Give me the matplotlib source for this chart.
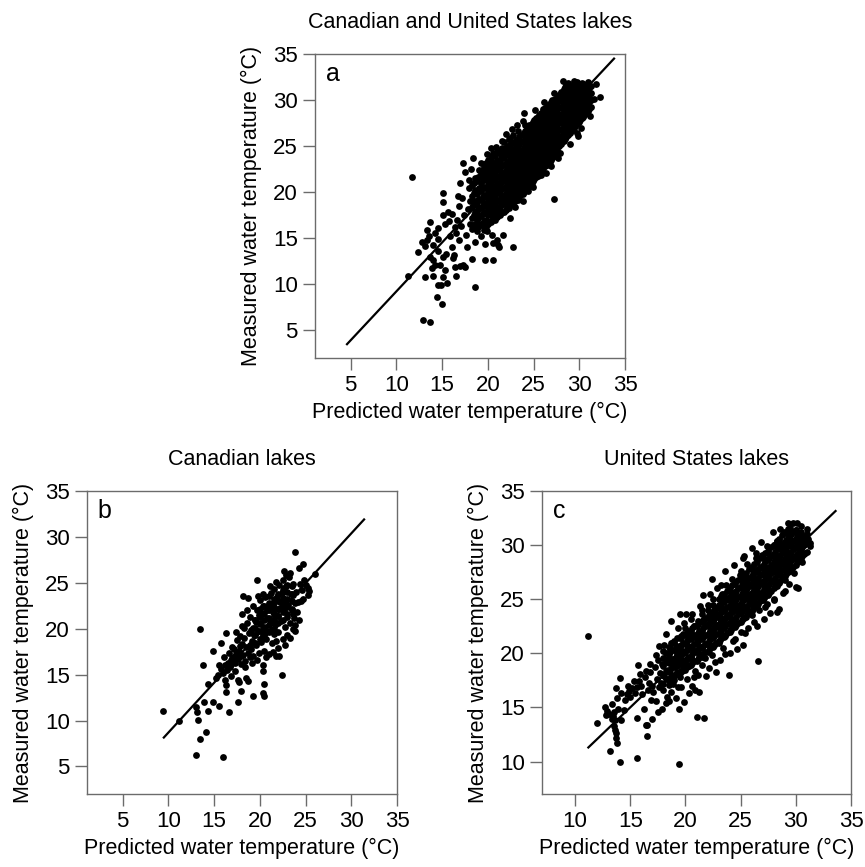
import numpy as np
import matplotlib
matplotlib.use("Agg")
import matplotlib.pyplot as plt

plt.rcParams['font.family'] = ['Liberation Sans', 'DejaVu Sans']

# ---------------- data ----------------
titles = ["Canadian and United States lakes", "Canadian lakes", "United States lakes"]
panel_letters = ["a", "b", "c"]
xlabel = "Predicted water temperature (°C)"
ylabel = "Measured water temperature (°C)"
ticks_ab = [5, 10, 15, 20, 25, 30, 35]
ticks_c = [10, 15, 20, 25, 30, 35]

# fitted lines (predicted range, fitted measured)
fit_a_x = [4.6, 33.8]
fit_a_y = [3.5, 34.5]
fit_b_x = [9.5, 31.4]
fit_b_y = [8.15, 31.9]
fit_c_x = [11.2, 33.6]
fit_c_y = [11.3, 33.15]

# Panel a: combined lakes -- sparse / fringe points (predicted, measured)
a_points = [
    (11.75, 21.6), (11.3, 10.9), (12.95, 6.1), (13.7, 5.9), (15.0, 7.9), (14.4, 8.65),
    (14.6, 9.9), (14.9, 9.9), (15.5, 10.1), (18.6, 9.7), (13.1, 10.8), (14.05, 10.9),
    (15.1, 10.8), (16.5, 10.9), (15.3, 11.55), (14.8, 12.1), (16.4, 11.9), (17.3, 12.1),
    (17.5, 11.85), (18.25, 12.7), (19.7, 12.6), (20.6, 12.6), (12.35, 13.55), (12.8, 14.6),
    (13.1, 14.2), (13.3, 14.8), (13.7, 13.0), (14.05, 12.6), (14.25, 12.1), (13.85, 11.75),
    (15.1, 13.0), (15.4, 13.3), (14.5, 13.6), (14.0, 14.3), (14.6, 14.9), (13.6, 15.2),
    (13.3, 15.9), (13.7, 16.8), (14.2, 15.6), (14.6, 16.1), (15.1, 19.9), (15.05, 18.9),
    (15.1, 17.5), (15.3, 16.6), (15.6, 17.9), (15.9, 15.2), (15.8, 16.9), (16.1, 14.0),
    (16.3, 13.2), (16.5, 15.6), (16.6, 17.0), (16.8, 18.5), (16.9, 14.8), (17.0, 21.0),
    (17.3, 23.15), (17.1, 16.3), (17.2, 19.4), (17.4, 17.5), (17.6, 15.3), (17.7, 14.1),
    (17.8, 18.2), (17.9, 20.4), (18.4, 23.7), (18.0, 16.6), (18.1, 19.0), (19.7, 14.4),
    (20.6, 14.45), (21.2, 14.1), (22.8, 14.0), (18.6, 14.6), (19.2, 15.2), (19.9, 15.8),
    (20.5, 15.3), (21.7, 15.4), (21.0, 14.8), (21.1, 14.3), (16.2, 12.9), (17.0, 12.0),
    (16.1, 17.6), (16.7, 19.6), (17.5, 22.2), (17.9, 21.3), (18.2, 22.5), (16.4, 16.2),
    (24.0, 28.6), (23.9, 27.7), (28.6, 27.3), (29.7, 26.4), (29.9, 26.1), (32.3, 30.3),
    (31.8, 31.7), (28.2, 32.1), (27.9, 24.2), (27.7, 23.7), (25.8, 21.9), (24.4, 20.1),
    (27.2, 19.3), (22.0, 26.3), (21.6, 25.6), (20.3, 24.8), (19.3, 23.2), (22.4, 17.2),
    (23.0, 18.4), (23.8, 19.0), (24.9, 20.6), (26.4, 22.1), (26.9, 22.8), (29.0, 25.2),
    (30.2, 27.0), (31.2, 28.3), (31.6, 30.1), (30.9, 32.0), (29.4, 32.1), (27.2, 30.8),
    (26.1, 29.8), (25.2, 28.9), (23.2, 27.3), (22.6, 26.9), (20.9, 24.9), (19.9, 24.1),
    (28.9, 28.0), (30.6, 29.2),
]

# Panel a: dense core, columns of (predicted, [measured ...])
a_core = [
    (18.3, [16.0, 17.2, 18.4, 19.6, 20.8]),
    (18.55, [16.6, 17.8, 19.0, 20.2, 21.5]),
    (18.8, [15.8, 17.0, 17.9, 18.9, 19.8, 21.2]),
    (19.05, [16.5, 17.4, 18.4, 19.3, 20.4, 22.4]),
    (19.3, [16.4, 17.4, 18.3, 19.2, 20.1, 21.0, 22.0]),
    (19.55, [15.9, 16.9, 17.8, 18.8, 19.7, 20.6, 21.6, 22.7]),
    (19.8, [16.2, 17.0, 17.9, 18.7, 19.6, 20.4, 21.3, 22.3, 23.2]),
    (20.05, [16.6, 17.5, 18.3, 19.1, 20.0, 20.8, 21.7, 22.6, 23.5]),
    (20.3, [16.8, 17.7, 18.5, 19.3, 20.2, 21.0, 21.9, 22.7, 23.6]),
    (20.55, [17.3, 18.1, 18.9, 19.8, 20.6, 21.5, 22.3, 23.2, 24.2]),
    (20.8, [17.0, 17.9, 18.8, 19.6, 20.5, 21.3, 22.2, 23.0, 24.0]),
    (21.05, [17.6, 18.4, 19.2, 20.1, 20.9, 21.8, 22.6, 23.5, 24.5]),
    (21.3, [17.5, 18.4, 19.2, 20.0, 20.9, 21.7, 22.5, 23.4, 24.3]),
    (21.55, [17.9, 18.8, 19.6, 20.5, 21.3, 22.1, 23.0, 23.9, 24.8]),
    (21.8, [17.8, 18.7, 19.6, 20.4, 21.2, 22.1, 22.9, 23.7, 24.6, 25.4]),
    (22.05, [18.3, 19.1, 20.0, 20.8, 21.7, 22.5, 23.3, 24.2, 25.0]),
    (22.3, [18.3, 19.2, 20.0, 20.8, 21.6, 22.5, 23.3, 24.1, 24.9, 25.8]),
    (22.55, [18.8, 19.6, 20.4, 21.2, 22.1, 22.9, 23.7, 24.5, 25.4]),
    (22.8, [18.8, 19.6, 20.5, 21.3, 22.1, 22.9, 23.7, 24.5, 25.3, 26.2]),
    (23.05, [19.3, 20.1, 20.9, 21.7, 22.5, 23.3, 24.1, 24.9, 25.7]),
    (23.3, [19.2, 20.1, 20.9, 21.7, 22.5, 23.3, 24.2, 25.0, 25.8, 26.6]),
    (23.55, [19.7, 20.5, 21.3, 22.1, 22.9, 23.7, 24.6, 25.4, 26.2]),
    (23.8, [19.8, 20.6, 21.4, 22.2, 23.0, 23.8, 24.6, 25.4, 26.2]),
    (24.05, [20.2, 21.0, 21.8, 22.6, 23.4, 24.2, 25.0, 25.8, 26.6, 27.3]),
    (24.3, [20.5, 21.3, 22.1, 22.9, 23.7, 24.5, 25.3, 26.1, 26.9]),
    (24.55, [20.9, 21.7, 22.5, 23.3, 24.1, 24.9, 25.7, 26.5, 27.3]),
    (24.8, [21.0, 21.8, 22.6, 23.4, 24.2, 25.0, 25.8, 26.6, 27.4]),
    (25.05, [21.4, 22.2, 23.0, 23.8, 24.6, 25.4, 26.2, 27.0, 27.8]),
    (25.3, [21.6, 22.4, 23.2, 24.0, 24.8, 25.6, 26.4, 27.2, 28.0]),
    (25.55, [22.0, 22.8, 23.6, 24.4, 25.2, 26.0, 26.8, 27.6, 28.4]),
    (25.8, [22.4, 23.1, 23.9, 24.7, 25.5, 26.3, 27.1, 27.9, 28.6]),
    (26.05, [22.6, 23.4, 24.2, 25.0, 25.8, 26.6, 27.4, 28.2, 29.0]),
    (26.3, [22.8, 23.6, 24.4, 25.2, 26.0, 26.8, 27.6, 28.4, 29.1]),
    (26.55, [23.2, 24.0, 24.8, 25.6, 26.4, 27.2, 28.0, 28.8, 29.5]),
    (26.8, [23.3, 24.1, 24.9, 25.7, 26.5, 27.3, 28.1, 28.9, 29.6]),
    (27.05, [23.7, 24.5, 25.3, 26.1, 26.9, 27.7, 28.5, 29.3, 30.0]),
    (27.3, [23.9, 24.6, 25.4, 26.2, 27.0, 27.8, 28.6, 29.4, 30.1]),
    (27.55, [24.6, 25.4, 26.2, 27.0, 27.8, 28.6, 29.4, 30.2]),
    (27.8, [25.0, 25.9, 26.7, 27.5, 28.3, 29.1, 29.9, 30.6]),
    (28.05, [25.3, 26.1, 26.9, 27.7, 28.5, 29.3, 30.1, 30.9]),
    (28.3, [25.6, 26.4, 27.2, 28.0, 28.8, 29.6, 30.4, 31.2]),
    (28.55, [26.0, 26.8, 27.6, 28.4, 29.2, 30.0, 30.8, 31.6]),
    (28.8, [26.2, 27.0, 27.8, 28.6, 29.4, 30.2, 31.0, 31.8]),
    (29.05, [26.6, 27.4, 28.2, 29.0, 29.8, 30.6, 31.4]),
    (29.3, [26.8, 27.6, 28.4, 29.2, 30.0, 30.8, 31.6]),
    (29.55, [27.2, 28.0, 28.8, 29.6, 30.4, 31.2, 32.0]),
    (29.8, [27.4, 28.2, 29.0, 29.8, 30.6, 31.4, 32.0]),
    (30.05, [27.8, 28.6, 29.4, 30.2, 31.0, 31.7]),
    (30.3, [28.0, 28.8, 29.6, 30.4, 31.2, 31.9]),
    (30.55, [28.4, 29.2, 30.0, 30.8, 31.5]),
    (30.8, [28.6, 29.4, 30.2, 31.0, 31.7]),
    (31.05, [29.0, 29.8, 30.6, 31.3]),
    (31.3, [29.2, 30.0, 30.8, 31.5]),
]

a_fill = [
    (18.45, [16.3, 17.5, 18.7, 19.9, 21.0]),
    (18.95, [16.2, 17.2, 18.2, 19.1, 20.1, 21.6]),
    (19.45, [16.7, 17.6, 18.5, 19.5, 20.4, 21.3, 22.3]),
    (19.95, [16.9, 17.8, 18.7, 19.5, 20.4, 21.3, 22.1, 23.0]),
    (20.45, [17.0, 17.9, 18.7, 19.6, 20.4, 21.3, 22.1, 23.0, 23.9]),
    (20.95, [17.3, 18.2, 19.0, 19.9, 20.7, 21.6, 22.4, 23.3, 24.2]),
    (21.45, [17.7, 18.6, 19.4, 20.3, 21.1, 21.9, 22.8, 23.7, 24.6]),
    (21.95, [18.1, 18.9, 19.8, 20.6, 21.4, 22.3, 23.1, 24.0, 24.8]),
    (22.45, [18.6, 19.4, 20.2, 21.0, 21.9, 22.7, 23.5, 24.3, 25.1, 25.9]),
    (22.95, [19.0, 19.9, 20.7, 21.5, 22.3, 23.1, 23.9, 24.7, 25.5]),
    (23.45, [19.5, 20.3, 21.1, 21.9, 22.7, 23.5, 24.4, 25.2, 26.0]),
    (23.95, [20.0, 20.8, 21.6, 22.4, 23.2, 24.0, 24.8, 25.6, 26.4]),
    (24.45, [20.7, 21.5, 22.3, 23.1, 23.9, 24.7, 25.5, 26.3, 27.1]),
    (24.95, [21.2, 22.0, 22.8, 23.6, 24.4, 25.2, 26.0, 26.8, 27.6]),
    (25.45, [21.8, 22.6, 23.4, 24.2, 25.0, 25.8, 26.6, 27.4, 28.2]),
    (25.95, [22.2, 23.0, 23.8, 24.6, 25.4, 26.2, 27.0, 27.8, 28.6]),
    (26.45, [23.0, 23.8, 24.6, 25.4, 26.2, 27.0, 27.8, 28.6, 29.3]),
    (26.95, [23.5, 24.3, 25.1, 25.9, 26.7, 27.5, 28.3, 29.1, 29.8]),
    (27.45, [24.2, 25.0, 25.8, 26.6, 27.4, 28.2, 29.0, 29.8]),
    (27.95, [25.2, 26.0, 26.8, 27.6, 28.4, 29.2, 30.0, 30.8]),
    (28.45, [25.8, 26.6, 27.4, 28.2, 29.0, 29.8, 30.6, 31.4]),
    (28.95, [26.4, 27.2, 28.0, 28.8, 29.6, 30.4, 31.2]),
    (29.45, [27.0, 27.8, 28.6, 29.4, 30.2, 31.0, 31.8]),
    (29.95, [27.6, 28.4, 29.2, 30.0, 30.8, 31.6]),
    (30.45, [28.2, 29.0, 29.8, 30.6, 31.4]),
    (30.95, [28.8, 29.6, 30.4, 31.2]),
]

# Panel b: Canadian lakes (predicted, measured)
b_points = [
    (9.4, 11.0), (11.2, 10.0), (13.0, 11.5), (13.15, 10.9), (13.2, 10.1), (13.5, 8.0),
    (13.0, 6.2), (14.1, 8.8), (14.3, 11.0), (13.9, 12.0), (14.9, 12.0), (15.5, 11.6),
    (16.6, 10.9), (16.0, 6.0), (13.5, 20.0), (13.8, 16.0), (14.3, 14.0), (14.9, 17.6),
    (15.7, 18.4), (16.3, 19.5), (15.5, 16.0), (16.2, 14.4), (16.3, 13.1), (16.3, 13.9),
    (17.6, 12.0), (17.95, 13.2), (17.7, 14.2), (17.6, 14.4), (18.5, 14.6), (18.7, 14.3),
    (19.3, 12.7), (20.4, 13.0), (20.5, 12.7), (20.5, 14.0), (20.3, 15.4), (20.3, 16.0),
    (22.4, 15.0), (18.2, 23.6), (18.7, 23.3), (19.7, 25.3), (23.9, 28.4), (24.7, 27.0),
    (24.3, 26.6), (26.0, 26.0), (24.6, 24.2), (25.3, 24.4), (25.3, 23.7), (24.7, 23.2),
    (23.6, 23.7), (22.6, 26.3), (21.8, 17.0), (22.1, 17.0), (23.6, 20.0), (17.0, 16.8),
    (15.8, 15.6), (16.0, 15.2), (16.2, 16.0), (16.4, 15.5), (16.5, 16.3), (16.7, 15.8),
    (16.8, 16.6), (16.9, 16.2), (17.1, 16.9), (17.2, 17.8), (17.3, 16.3), (17.4, 17.2),
    (17.5, 18.8), (17.6, 16.7), (17.7, 17.6), (17.8, 19.2), (17.9, 16.2), (18.0, 18.3),
    (18.1, 20.3), (18.2, 17.1), (18.3, 19.0), (18.4, 16.5), (18.5, 18.0), (18.6, 20.6),
    (18.7, 17.4), (18.8, 19.5), (18.9, 21.3), (19.0, 17.8), (19.1, 18.7), (19.2, 20.1),
    (19.2, 22.5), (19.3, 17.0), (19.4, 19.3), (19.5, 21.0), (19.6, 18.2), (19.7, 22.0),
    (19.8, 19.8), (19.9, 17.4), (20.0, 20.6), (20.0, 23.1), (20.1, 18.6), (20.2, 21.6),
    (20.3, 19.3), (20.4, 22.5), (20.5, 17.6), (20.5, 20.2), (20.6, 23.5), (20.7, 18.9),
    (20.8, 21.2), (20.9, 19.7), (21.0, 22.6), (21.0, 17.2), (21.1, 20.6), (21.2, 23.9),
    (21.3, 18.4), (21.4, 21.8), (21.5, 19.4), (21.5, 24.3), (21.6, 22.9), (21.7, 20.4),
    (21.8, 18.7), (21.9, 23.5), (22.0, 21.4), (22.0, 19.6), (22.1, 24.8), (22.2, 22.3),
    (22.3, 20.8), (22.4, 23.9), (22.5, 18.9), (22.5, 25.3), (22.6, 21.9), (22.7, 20.2),
    (22.8, 23.1), (22.9, 24.6), (23.0, 21.3), (23.0, 19.3), (23.1, 22.6), (23.2, 25.6),
    (23.3, 20.6), (23.4, 23.8), (23.5, 22.0), (23.6, 24.9), (23.7, 21.2), (23.8, 22.8),
    (23.9, 20.4), (24.0, 24.0), (24.1, 21.8), (24.2, 22.9), (24.4, 24.9), (24.5, 23.0),
    (24.8, 25.3), (25.0, 24.8), (25.4, 24.1), (19.0, 19.9), (19.6, 20.7), (20.2, 19.0),
    (20.8, 22.0), (21.2, 21.0), (21.6, 21.0), (22.2, 22.9), (22.6, 24.4), (21.3, 19.9),
    (20.6, 19.5), (19.9, 21.5), (20.4, 23.8), (21.1, 24.7), (21.8, 25.1), (22.9, 25.8),
    (23.3, 26.1), (18.3, 20.1), (17.8, 18.1), (19.4, 18.4), (18.9, 16.9), (19.7, 16.6),
    (20.7, 16.9), (21.4, 17.5), (22.0, 17.9), (22.8, 18.2), (23.3, 19.0), (23.9, 19.7),
    (23.6, 21.6), (24.3, 21.0), (16.8, 14.9), (17.3, 15.4), (16.1, 16.9), (15.4, 15.0),
    (15.2, 14.6), (17.0, 18.0), (17.4, 19.6), (16.6, 17.4), (18.1, 21.6), (18.6, 22.0),
    (18.4, 15.8), (19.1, 16.3), (19.8, 23.6), (17.9, 17.0), (18.9, 18.2),
]

# Panel b: dense core, columns of (predicted, [measured ...])
b_core = [
    (19.5, [18.5, 19.3, 20.1, 20.9]),
    (20.0, [18.9, 19.7, 20.5, 21.3, 22.1]),
    (20.5, [19.3, 20.1, 20.9, 21.7, 22.5]),
    (21.0, [19.6, 20.4, 21.2, 22.0, 22.8, 23.6]),
    (21.5, [20.0, 20.8, 21.6, 22.4, 23.2]),
    (22.0, [20.6, 21.4, 22.2, 23.0, 23.8]),
    (22.5, [21.0, 21.8, 22.6, 23.4, 24.2]),
    (23.0, [21.6, 22.4, 23.2, 24.0, 24.8]),
    (23.5, [22.2, 23.0, 23.8, 24.6]),
]

# Panel c: United States lakes (predicted, measured)
c_points = [
    (11.15, 21.6), (12.0, 13.6), (12.7, 15.0), (12.9, 14.7), (13.1, 14.4), (13.2, 11.0),
    (13.3, 13.9), (13.4, 14.2), (13.5, 13.3), (13.6, 12.9), (13.7, 12.6), (13.75, 12.2),
    (13.8, 11.7), (13.6, 13.8), (13.5, 14.6), (13.8, 15.85), (13.7, 16.75), (14.05, 17.7),
    (14.05, 10.0), (14.2, 13.8), (14.4, 14.8), (14.5, 15.7), (14.7, 16.2), (14.9, 16.5),
    (15.0, 16.0), (15.2, 16.8), (15.4, 16.3), (15.6, 16.9), (15.65, 14.0), (15.6, 10.3),
    (15.7, 18.9), (15.8, 17.4), (16.0, 17.0), (16.1, 16.2), (16.2, 14.9), (16.3, 17.8),
    (16.4, 13.4), (16.5, 12.4), (16.55, 13.4), (16.6, 16.6), (16.7, 17.3), (16.8, 18.3),
    (16.9, 15.7), (17.0, 13.9), (17.0, 17.0), (17.1, 16.4), (17.2, 18.7), (17.3, 15.6),
    (17.4, 17.6), (17.5, 19.4), (17.6, 20.7), (17.6, 16.9), (17.7, 18.2), (17.8, 17.3),
    (17.9, 14.9), (17.9, 19.0), (18.0, 16.6), (18.0, 20.2), (18.1, 17.9), (18.2, 21.8),
    (18.2, 15.4), (18.3, 16.0), (18.3, 19.5), (18.4, 18.5), (18.5, 17.1), (18.6, 20.4),
    (18.7, 23.0), (18.7, 16.4), (18.8, 18.0), (18.9, 19.2), (19.0, 17.5), (19.0, 21.1),
    (19.1, 15.9), (19.2, 18.8), (19.2, 20.2), (19.3, 16.9), (19.4, 19.6), (19.45, 9.8),
    (19.5, 23.6), (19.5, 17.8), (19.6, 21.4), (19.7, 18.4), (19.8, 20.0), (19.9, 15.5),
    (19.9, 19.1), (20.0, 22.3), (20.05, 23.6), (20.1, 17.6), (20.2, 20.7), (20.3, 18.8),
    (20.4, 21.7), (20.5, 19.6), (20.5, 23.2), (20.6, 17.0), (20.7, 20.3), (20.8, 22.5),
    (20.9, 16.6), (20.9, 18.4), (21.0, 14.1), (21.0, 21.2), (21.1, 18.0), (21.1, 23.0),
    (21.2, 19.9), (21.25, 16.45), (21.3, 22.0), (21.4, 20.6), (21.5, 24.0), (21.5, 18.9),
    (21.6, 21.5), (21.7, 14.0), (21.7, 23.1), (21.8, 19.6), (21.9, 20.9), (22.0, 22.6),
    (22.0, 24.5), (22.1, 18.6), (22.2, 21.7), (22.3, 23.5), (22.4, 19.8), (22.5, 22.2),
    (22.5, 25.0), (22.6, 20.8), (22.7, 23.8), (22.8, 18.3), (22.85, 26.0), (22.9, 22.4),
    (23.0, 21.1), (23.0, 24.5), (23.1, 19.4), (23.2, 23.2), (23.3, 25.5), (23.4, 20.5),
    (23.5, 22.6), (23.5, 24.1), (23.6, 21.6), (23.7, 26.3), (23.8, 23.4), (23.9, 18.0),
    (23.9, 24.9), (24.0, 20.0), (24.0, 22.2), (24.1, 25.7), (24.2, 23.8), (24.3, 21.1),
    (24.4, 24.6), (24.5, 26.6), (24.5, 22.7), (24.6, 25.2), (24.7, 20.4), (24.8, 23.9),
    (24.9, 27.2), (25.0, 24.5), (25.0, 22.0), (25.1, 26.0), (25.2, 28.85), (25.25, 20.8),
    (25.3, 23.3), (25.4, 25.3), (25.5, 27.0), (25.6, 24.2), (25.7, 22.3), (25.8, 26.4),
    (25.9, 25.0), (26.0, 28.0), (26.0, 23.5), (26.1, 27.2), (26.2, 24.8), (26.3, 26.0),
    (26.4, 28.8), (26.5, 22.5), (26.5, 25.5), (26.6, 19.3), (26.6, 27.5), (26.7, 24.0),
    (26.8, 26.6), (26.9, 29.1), (27.0, 25.2), (27.0, 27.9), (27.1, 23.2), (27.2, 26.2),
    (27.3, 28.6), (27.4, 24.6), (27.5, 27.3), (27.5, 29.5), (27.6, 25.8), (27.7, 23.7),
    (27.8, 28.1), (27.9, 26.8), (28.0, 30.0), (28.0, 25.0), (28.1, 27.6), (28.2, 29.0),
    (28.3, 23.8), (28.3, 26.2), (28.4, 28.4), (28.5, 24.1), (28.5, 30.6), (28.6, 27.2),
    (28.7, 29.6), (28.8, 25.6), (28.9, 31.2), (29.0, 28.3), (29.0, 26.8), (29.1, 30.1),
    (29.2, 27.8), (29.3, 32.0), (29.3, 29.3), (29.4, 26.4), (29.5, 31.0), (29.6, 28.6),
    (29.7, 30.4), (29.8, 27.4), (29.9, 29.7), (30.0, 26.1), (30.0, 31.4), (30.1, 32.0),
    (30.2, 26.0), (30.2, 28.9), (30.3, 30.6), (30.4, 29.8), (30.5, 31.8), (30.6, 28.4),
    (30.7, 30.2), (30.8, 29.3), (31.0, 31.5), (31.1, 30.6), (31.3, 29.9), (31.3, 30.2),
    (28.6, 31.5), (29.7, 32.0), (28.3, 30.4), (27.4, 29.9), (26.4, 29.3), (25.6, 28.3),
    (25.0, 27.6), (24.2, 26.9), (23.2, 26.3), (22.2, 25.5), (21.3, 24.4), (20.6, 23.6),
    (19.9, 22.8), (19.3, 22.3), (18.7, 21.0), (18.1, 20.8), (17.3, 19.8), (16.8, 19.0),
    (16.4, 18.4), (15.9, 18.1), (15.3, 17.4), (14.8, 17.0), (14.2, 16.3), (13.9, 14.9),
    (13.3, 15.3), (12.8, 14.3), (21.9, 17.9), (22.7, 19.2), (23.6, 19.9), (24.5, 21.3),
    (25.4, 21.9), (26.2, 22.9), (27.2, 24.3), (28.0, 24.9), (29.0, 25.8), (19.6, 16.9),
    (20.3, 16.3), (18.5, 15.6), (18.9, 17.2), (20.8, 17.8), (19.4, 14.9), (17.5, 14.6),
    (26.8, 30.3), (27.9, 31.2), (26.0, 29.7), (25.3, 29.0), (24.4, 28.2), (23.6, 27.6),
    (22.4, 26.9), (21.6, 25.4),
]

# Panel c: dense core, columns of (predicted, [measured ...])
c_core = [
    (18.0, [17.2, 18.0, 18.8, 19.6]),
    (18.25, [17.6, 18.4, 19.2, 20.0]),
    (18.5, [17.5, 18.3, 19.1, 19.9, 20.6]),
    (18.75, [17.9, 18.7, 19.5, 20.3, 21.0]),
    (19.0, [17.9, 18.7, 19.5, 20.3, 21.0]),
    (19.25, [18.3, 19.1, 19.9, 20.7, 21.4]),
    (19.5, [18.2, 19.0, 19.8, 20.6, 21.4]),
    (19.75, [18.6, 19.4, 20.2, 21.0, 21.8]),
    (20.0, [18.5, 19.3, 20.1, 20.9, 21.7]),
    (20.25, [18.9, 19.7, 20.5, 21.3, 22.1]),
    (20.5, [18.9, 19.7, 20.5, 21.3, 22.1]),
    (20.75, [19.3, 20.1, 20.9, 21.7, 22.5]),
    (21.0, [19.3, 20.1, 20.9, 21.7, 22.5]),
    (21.25, [19.7, 20.5, 21.3, 22.1, 22.9]),
    (21.5, [19.7, 20.5, 21.3, 22.1, 22.9, 23.6]),
    (21.75, [20.1, 20.9, 21.7, 22.5, 23.3]),
    (22.0, [20.1, 20.9, 21.7, 22.5, 23.3, 24.0]),
    (22.25, [20.5, 21.3, 22.1, 22.9, 23.7]),
    (22.5, [20.6, 21.4, 22.2, 23.0, 23.8, 24.5]),
    (22.75, [21.0, 21.8, 22.6, 23.4, 24.2]),
    (23.0, [21.0, 21.8, 22.6, 23.4, 24.2, 25.0]),
    (23.25, [21.4, 22.2, 23.0, 23.8, 24.6, 25.3]),
    (23.5, [21.5, 22.3, 23.1, 23.9, 24.7, 25.5]),
    (23.75, [21.9, 22.7, 23.5, 24.3, 25.1, 25.8]),
    (24.0, [22.0, 22.8, 23.6, 24.4, 25.2, 26.0]),
    (24.25, [22.4, 23.2, 24.0, 24.8, 25.6, 26.3]),
    (24.5, [22.4, 23.2, 24.0, 24.8, 25.6, 26.4]),
    (24.75, [22.8, 23.6, 24.4, 25.2, 26.0, 26.8]),
    (25.0, [22.9, 23.7, 24.5, 25.3, 26.1, 26.9]),
    (25.25, [23.3, 24.1, 24.9, 25.7, 26.5, 27.3]),
    (25.5, [23.4, 24.2, 25.0, 25.8, 26.6, 27.4]),
    (25.75, [23.8, 24.6, 25.4, 26.2, 27.0, 27.8]),
    (26.0, [23.9, 24.7, 25.5, 26.3, 27.1, 27.9]),
    (26.25, [24.3, 25.1, 25.9, 26.7, 27.5, 28.3]),
    (26.5, [24.4, 25.2, 26.0, 26.8, 27.6, 28.4]),
    (26.75, [24.8, 25.6, 26.4, 27.2, 28.0, 28.8]),
    (27.0, [24.9, 25.7, 26.5, 27.3, 28.1, 28.9]),
    (27.25, [25.3, 26.1, 26.9, 27.7, 28.5, 29.3]),
    (27.5, [25.4, 26.2, 27.0, 27.8, 28.6, 29.4]),
    (27.75, [25.8, 26.6, 27.4, 28.2, 29.0, 29.8]),
    (28.0, [26.0, 26.8, 27.6, 28.4, 29.2, 30.0]),
    (28.25, [26.4, 27.2, 28.0, 28.8, 29.6, 30.4]),
    (28.5, [26.5, 27.3, 28.1, 28.9, 29.7, 30.5]),
    (28.75, [26.9, 27.7, 28.5, 29.3, 30.1, 30.9]),
    (29.0, [27.1, 27.9, 28.7, 29.5, 30.3, 31.1]),
    (29.25, [27.5, 28.3, 29.1, 29.9, 30.7, 31.5]),
    (29.5, [27.6, 28.4, 29.2, 30.0, 30.8, 31.6]),
    (29.75, [28.0, 28.8, 29.6, 30.4, 31.2]),
    (30.0, [28.2, 29.0, 29.8, 30.6, 31.4]),
    (30.25, [28.6, 29.4, 30.2, 31.0]),
    (30.5, [28.8, 29.6, 30.4, 31.2]),
    (30.75, [29.2, 30.0, 30.8]),
    (31.0, [29.4, 30.2, 31.0]),
]

c_fill = [
    (18.6, [17.7, 18.5, 19.3, 20.1]),
    (19.1, [18.1, 18.9, 19.7, 20.5]),
    (19.6, [18.4, 19.2, 20.0, 20.8, 21.6]),
    (20.1, [18.7, 19.5, 20.3, 21.1, 21.9]),
    (20.6, [19.1, 19.9, 20.7, 21.5, 22.3]),
    (21.1, [19.5, 20.3, 21.1, 21.9, 22.7]),
    (21.6, [19.9, 20.7, 21.5, 22.3, 23.1]),
    (22.1, [20.3, 21.1, 21.9, 22.7, 23.5]),
    (22.6, [20.8, 21.6, 22.4, 23.2, 24.0]),
    (23.1, [21.2, 22.0, 22.8, 23.6, 24.4]),
    (23.6, [21.7, 22.5, 23.3, 24.1, 24.9]),
    (24.1, [22.2, 23.0, 23.8, 24.6, 25.4]),
    (24.6, [22.6, 23.4, 24.2, 25.0, 25.8]),
    (25.1, [23.1, 23.9, 24.7, 25.5, 26.3]),
    (25.6, [23.6, 24.4, 25.2, 26.0, 26.8]),
    (26.1, [24.1, 24.9, 25.7, 26.5, 27.3]),
    (26.6, [24.6, 25.4, 26.2, 27.0, 27.8]),
    (27.1, [25.1, 25.9, 26.7, 27.5, 28.3]),
    (27.6, [25.6, 26.4, 27.2, 28.0, 28.8]),
    (28.1, [26.2, 27.0, 27.8, 28.6, 29.4]),
    (28.6, [26.7, 27.5, 28.3, 29.1, 29.9]),
    (29.1, [27.3, 28.1, 28.9, 29.7, 30.5]),
    (29.6, [27.8, 28.6, 29.4, 30.2, 31.0]),
    (30.1, [28.4, 29.2, 30.0, 30.8]),
    (30.6, [29.0, 29.8, 30.6]),
]

# ---------------- assemble arrays ----------------
def assemble(points, *cores):
    xs = [p[0] for p in points]
    ys_ = [p[1] for p in points]
    for core in cores:
        xs += [x for x, ys in core for _ in ys]
        ys_ += [y for _, ys in core for y in ys]
    return xs, ys_

a_x, a_y = assemble(a_points, a_core, a_fill)
b_x, b_y = assemble(b_points, b_core)
c_x, c_y = assemble(c_points, c_core, c_fill)

W, H = 865, 867
fig = plt.figure(figsize=(W / 100, H / 100), dpi=100)

def px_axes(left, top, right, bottom):
    return fig.add_axes([left / W, 1 - bottom / H, (right - left) / W, (bottom - top) / H])

ax_a = px_axes(315, 54, 625, 358)
ax_b = px_axes(87, 491, 397, 794)
ax_c = px_axes(542, 491, 851, 794)

spine_col = "#6b6b6b"
panels = [
    (ax_a, a_x, a_y, fit_a_x, fit_a_y, (1.1, 35), (2.0, 35), ticks_ab, titles[0], panel_letters[0]),
    (ax_b, b_x, b_y, fit_b_x, fit_b_y, (1.1, 35), (2.0, 35), ticks_ab, titles[1], panel_letters[1]),
    (ax_c, c_x, c_y, fit_c_x, fit_c_y, (7.0, 35), (7.0, 35), ticks_c, titles[2], panel_letters[2]),
]

for ax, xs, ys, fx, fy, xl, yl, tks, title, letter in panels:
    ax.plot(xs, ys, 'o', color='black', ms=4.9, mew=0, zorder=2)
    ax.plot(fx, fy, '-', color='black', lw=1.6, zorder=3)
    ax.set_xlim(*xl)
    ax.set_ylim(*yl)
    ax.set_xticks(tks)
    ax.set_yticks(tks)
    ax.tick_params(direction='out', length=8.5, width=1, color=spine_col,
                   labelsize=16, pad=4, top=False, right=False)
    for s in ax.spines.values():
        s.set_color(spine_col)
        s.set_linewidth(1.0)
    ax.set_xlabel(xlabel, fontsize=15.5, labelpad=4)
    ax.set_ylabel(ylabel, fontsize=15.5, labelpad=8)
    ax.set_title(title, fontsize=15.5, pad=19)
    ax.text(0.035, 0.975, letter, transform=ax.transAxes, fontsize=18,
            va='top', ha='left')

fig.savefig("out.png", dpi=100)
